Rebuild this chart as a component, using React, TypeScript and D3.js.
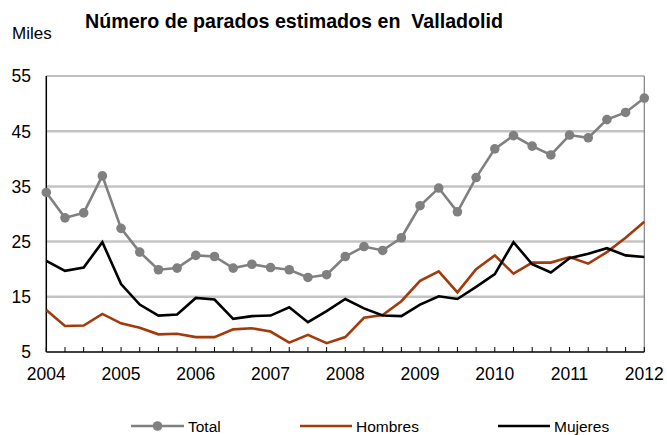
import React from "react";
import * as d3 from "d3";

const years = ["2004", "2005", "2006", "2007", "2008", "2009", "2010", "2011", "2012"];
const yTicks = [5, 15, 25, 35, 45, 55];

const total = [33.9, 29.3, 30.2, 36.9, 27.4, 23.1, 19.9, 20.2, 22.5, 22.3, 20.2, 20.9, 20.3, 19.9, 18.5, 19.0,
  22.3, 24.1, 23.4, 25.7, 31.5, 34.7, 30.4, 36.6, 41.8, 44.2, 42.3, 40.7, 44.3, 43.8, 47.1, 48.4, 51.0];
const hombres = [12.6, 9.7, 9.8, 11.9, 10.2, 9.4, 8.2, 8.3, 7.7, 7.7, 9.1, 9.3, 8.7, 6.7, 8.1, 6.6,
  7.7, 11.2, 11.7, 14.2, 17.9, 19.6, 15.8, 20.0, 22.5, 19.2, 21.2, 21.2, 22.2, 21.0, 23.1, 25.7, 28.6];
const mujeres = [21.5, 19.7, 20.3, 24.9, 17.3, 13.6, 11.6, 11.8, 14.8, 14.5, 11.0, 11.5, 11.6, 13.1, 10.4, 12.4,
  14.6, 12.9, 11.6, 11.5, 13.6, 15.1, 14.6, 16.8, 19.1, 24.9, 20.9, 19.4, 22.0, 22.8, 23.8, 22.5, 22.2];

const FONT = "'Liberation Sans', Arial, sans-serif";
const W = 667, H = 435;
const left = 46.3, right = 644.3, top = 76, bottom = 352;

export default function App() {
  const x = d3.scaleLinear().domain([0, 32]).range([left, right]);
  const y = d3.scaleLinear().domain([5, 55]).range([bottom, top]);
  const line = d3.line<number>().x((_, i) => x(i)).y((d) => y(d));
  const quarters = d3.range(0, 33);

  const series = [
    { name: "Total", data: total, color: "#808080", marker: true },
    { name: "Hombres", data: hombres, color: "#a23a0c", marker: false },
    { name: "Mujeres", data: mujeres, color: "#000000", marker: false },
  ];
  const legend = [
    { x0: 131, x1: 184, tx: 188 },
    { x0: 300, x1: 352, tx: 356 },
    { x0: 498, x1: 550, tx: 554 },
  ];

  return (
    <svg width={W} height={H} style={{ position: "absolute", left: 0, top: 0, background: "#fff" }} fontFamily={FONT}>
      <rect width={W} height={H} fill="#fff" />
      <text x={85} y={28} fontSize={20.5} fontWeight="bold" textLength={418} lengthAdjust="spacingAndGlyphs"
        fill="#000" style={{ whiteSpace: "pre" }}>
        {"Número de parados estimados en  Valladolid"}
      </text>
      <text x={12} y={39} fontSize={17} fill="#000">Miles</text>

      {yTicks.filter((t) => t !== 5 && t !== 55).map((t) => (
        <line key={t} x1={left} x2={right} y1={y(t)} y2={y(t)} stroke="#c4c4c4" strokeWidth={2.5} />
      ))}
      <line x1={left} x2={right} y1={top} y2={top} stroke="#808080" strokeWidth={1.2} />
      <line x1={right} x2={right} y1={top} y2={bottom} stroke="#808080" strokeWidth={1.2} />

      {quarters.map((q) => (
        <line key={q} x1={x(q)} x2={x(q)} y1={bottom} y2={bottom - 5} stroke="#000" strokeWidth={1} />
      ))}
      <line x1={left} x2={left} y1={top} y2={bottom} stroke="#000" strokeWidth={1.5} />
      <line x1={left} x2={right} y1={bottom} y2={bottom} stroke="#000" strokeWidth={1.5} />

      {yTicks.map((t) => (
        <text key={t} x={31} y={y(t)} dy="0.36em" fontSize={17.5} textAnchor="end" fill="#000">{t}</text>
      ))}
      {years.map((yr, i) => (
        <text key={yr} x={x(i * 4)} y={380} fontSize={17.5} textAnchor="middle" fill="#000">{yr}</text>
      ))}

      {series.map((s) => (
        <g key={s.name}>
          <path d={line(s.data) || ""} fill="none" stroke={s.color} strokeWidth={2.6} strokeLinejoin="miter" />
          {s.marker && s.data.map((d, i) => (
            <circle key={i} cx={x(i)} cy={y(d)} r={4.8} fill={s.color} />
          ))}
        </g>
      ))}

      {series.map((s, k) => (
        <g key={s.name}>
          <line x1={legend[k].x0} x2={legend[k].x1} y1={426} y2={426} stroke={s.color} strokeWidth={2.6} />
          {s.marker && <circle cx={(legend[k].x0 + legend[k].x1) / 2} cy={426} r={4.8} fill={s.color} />}
          <text x={legend[k].tx} y={426} dy="0.36em" fontSize={15.5} fill="#000">{s.name}</text>
        </g>
      ))}
    </svg>
  );
}
